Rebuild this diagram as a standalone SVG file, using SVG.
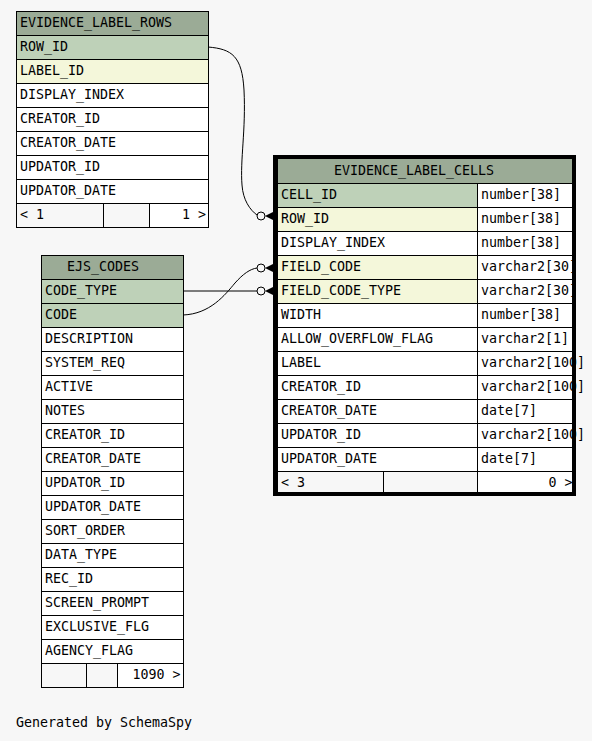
<svg xmlns="http://www.w3.org/2000/svg" width="592" height="741" viewBox="0 0 592 741">
<style>
text{font-family:"DejaVu Sans Mono","Liberation Mono",monospace;font-size:13.3px;fill:#000}
.c{stroke:#000;stroke-width:1}
.h{fill:#9bab96}
.pk{fill:#bed1b8}
.fk{fill:#f4f7da}
.w{fill:#ffffff}
.g{fill:#f7f7f7}
.e{text-anchor:end}
.ln{fill:none;stroke:#000;stroke-width:1}
.o{fill:#f7f7f7;stroke:#000;stroke-width:1}
</style>
<rect x="0" y="0" width="592" height="741" fill="#f7f7f7"/>

<g id="EVIDENCE_LABEL_ROWS">
<rect class="c h" x="16.5" y="11.5" width="192" height="24"/>
<rect class="c pk" x="16.5" y="35.5" width="192" height="24"/>
<rect class="c fk" x="16.5" y="59.5" width="192" height="24"/>
<rect class="c w" x="16.5" y="83.5" width="192" height="24"/>
<rect class="c w" x="16.5" y="107.5" width="192" height="24"/>
<rect class="c w" x="16.5" y="131.5" width="192" height="24"/>
<rect class="c w" x="16.5" y="155.5" width="192" height="24"/>
<rect class="c w" x="16.5" y="179.5" width="192" height="24"/>
<rect class="c g" x="16.5" y="203.5" width="87" height="24"/>
<rect class="c g" x="103.5" y="203.5" width="46" height="24"/>
<rect class="c w" x="149.5" y="203.5" width="59" height="24"/>
<text x="20" y="27">EVIDENCE_LABEL_ROWS</text>
<text x="20" y="51">ROW_ID</text>
<text x="20" y="75">LABEL_ID</text>
<text x="20" y="99">DISPLAY_INDEX</text>
<text x="20" y="123">CREATOR_ID</text>
<text x="20" y="147">CREATOR_DATE</text>
<text x="20" y="171">UPDATOR_ID</text>
<text x="20" y="195">UPDATOR_DATE</text>
<text x="20" y="219">&lt; 1</text>
<text class="e" x="206" y="219">1 &gt;</text>
</g>

<g id="EJS_CODES">
<rect class="c h" x="41.5" y="255.5" width="142" height="24"/>
<rect class="c pk" x="41.5" y="279.5" width="142" height="24"/>
<rect class="c pk" x="41.5" y="303.5" width="142" height="24"/>
<rect class="c w" x="41.5" y="327.5" width="142" height="24"/>
<rect class="c w" x="41.5" y="351.5" width="142" height="24"/>
<rect class="c w" x="41.5" y="375.5" width="142" height="24"/>
<rect class="c w" x="41.5" y="399.5" width="142" height="24"/>
<rect class="c w" x="41.5" y="423.5" width="142" height="24"/>
<rect class="c w" x="41.5" y="447.5" width="142" height="24"/>
<rect class="c w" x="41.5" y="471.5" width="142" height="24"/>
<rect class="c w" x="41.5" y="495.5" width="142" height="24"/>
<rect class="c w" x="41.5" y="519.5" width="142" height="24"/>
<rect class="c w" x="41.5" y="543.5" width="142" height="24"/>
<rect class="c w" x="41.5" y="567.5" width="142" height="24"/>
<rect class="c w" x="41.5" y="591.5" width="142" height="24"/>
<rect class="c w" x="41.5" y="615.5" width="142" height="24"/>
<rect class="c w" x="41.5" y="639.5" width="142" height="24"/>
<rect class="c g" x="41.5" y="663.5" width="45" height="24"/>
<rect class="c g" x="86.5" y="663.5" width="31" height="24"/>
<rect class="c w" x="117.5" y="663.5" width="66" height="24"/>
<text x="67" y="271">EJS_CODES</text>
<text x="45" y="295">CODE_TYPE</text>
<text x="45" y="319">CODE</text>
<text x="45" y="343">DESCRIPTION</text>
<text x="45" y="367">SYSTEM_REQ</text>
<text x="45" y="391">ACTIVE</text>
<text x="45" y="415">NOTES</text>
<text x="45" y="439">CREATOR_ID</text>
<text x="45" y="463">CREATOR_DATE</text>
<text x="45" y="487">UPDATOR_ID</text>
<text x="45" y="511">UPDATOR_DATE</text>
<text x="45" y="535">SORT_ORDER</text>
<text x="45" y="559">DATA_TYPE</text>
<text x="45" y="583">REC_ID</text>
<text x="45" y="607">SCREEN_PROMPT</text>
<text x="45" y="631">EXCLUSIVE_FLG</text>
<text x="45" y="655">AGENCY_FLAG</text>
<text class="e" x="180.5" y="679">1090 &gt;</text>
</g>

<g id="EVIDENCE_LABEL_CELLS">
<rect class="c h" x="277.5" y="158.5" width="295" height="25"/>
<rect class="c pk" x="277.5" y="183.5" width="200" height="24"/>
<rect class="c w" x="477.5" y="183.5" width="95" height="24"/>
<rect class="c fk" x="277.5" y="207.5" width="200" height="24"/>
<rect class="c w" x="477.5" y="207.5" width="95" height="24"/>
<rect class="c w" x="277.5" y="231.5" width="200" height="24"/>
<rect class="c w" x="477.5" y="231.5" width="95" height="24"/>
<rect class="c fk" x="277.5" y="255.5" width="200" height="24"/>
<rect class="c w" x="477.5" y="255.5" width="95" height="24"/>
<rect class="c fk" x="277.5" y="279.5" width="200" height="24"/>
<rect class="c w" x="477.5" y="279.5" width="95" height="24"/>
<rect class="c w" x="277.5" y="303.5" width="200" height="24"/>
<rect class="c w" x="477.5" y="303.5" width="95" height="24"/>
<rect class="c w" x="277.5" y="327.5" width="200" height="24"/>
<rect class="c w" x="477.5" y="327.5" width="95" height="24"/>
<rect class="c w" x="277.5" y="351.5" width="200" height="24"/>
<rect class="c w" x="477.5" y="351.5" width="95" height="24"/>
<rect class="c w" x="277.5" y="375.5" width="200" height="24"/>
<rect class="c w" x="477.5" y="375.5" width="95" height="24"/>
<rect class="c w" x="277.5" y="399.5" width="200" height="24"/>
<rect class="c w" x="477.5" y="399.5" width="95" height="24"/>
<rect class="c w" x="277.5" y="423.5" width="200" height="24"/>
<rect class="c w" x="477.5" y="423.5" width="95" height="24"/>
<rect class="c w" x="277.5" y="447.5" width="200" height="24"/>
<rect class="c w" x="477.5" y="447.5" width="95" height="24"/>
<rect class="c g" x="277.5" y="471.5" width="106" height="22"/>
<rect class="c g" x="383.5" y="471.5" width="94" height="22"/>
<rect class="c w" x="477.5" y="471.5" width="95" height="22"/>
<text x="334" y="175">EVIDENCE_LABEL_CELLS</text>
<text x="281" y="199">CELL_ID</text>
<text x="481" y="199">number[38]</text>
<text x="281" y="223">ROW_ID</text>
<text x="481" y="223">number[38]</text>
<text x="281" y="247">DISPLAY_INDEX</text>
<text x="481" y="247">number[38]</text>
<text x="281" y="271">FIELD_CODE</text>
<text x="481" y="271">varchar2[30]</text>
<text x="281" y="295">FIELD_CODE_TYPE</text>
<text x="481" y="295">varchar2[30]</text>
<text x="281" y="319">WIDTH</text>
<text x="481" y="319">number[38]</text>
<text x="281" y="343">ALLOW_OVERFLOW_FLAG</text>
<text x="481" y="343">varchar2[1]</text>
<text x="281" y="367">LABEL</text>
<text x="481" y="367">varchar2[100]</text>
<text x="281" y="391">CREATOR_ID</text>
<text x="481" y="391">varchar2[100]</text>
<text x="281" y="415">CREATOR_DATE</text>
<text x="481" y="415">date[7]</text>
<text x="281" y="439">UPDATOR_ID</text>
<text x="481" y="439">varchar2[100]</text>
<text x="281" y="463">UPDATOR_DATE</text>
<text x="481" y="463">date[7]</text>
<text x="281" y="487">&lt; 3</text>
<text class="e" x="572.5" y="487">0 &gt;</text>
<rect x="275" y="157" width="299" height="337" fill="none" stroke="#000" stroke-width="4"/>
</g>

<g id="connectors">
<path class="ln" d="M208,47 C232,49 242,56 244,90 C246,130 240,160 242,185 C243,200 250,210 257,215"/>
<circle class="o" cx="261" cy="216" r="4"/>
<polygon points="265,216 273,212 273,220" fill="#000"/>
<path class="ln" d="M183,291 L257,291"/>
<circle class="o" cx="261" cy="291" r="4"/>
<polygon points="265,291 273,287 273,295" fill="#000"/>
<path class="ln" d="M183,315 C210,314 225,295 235,283 C243,274 250,269 257,268"/>
<circle class="o" cx="261" cy="268" r="4"/>
<polygon points="265,268 273,264 273,272" fill="#000"/>
</g>

<text x="16" y="727">Generated by SchemaSpy</text>
</svg>
